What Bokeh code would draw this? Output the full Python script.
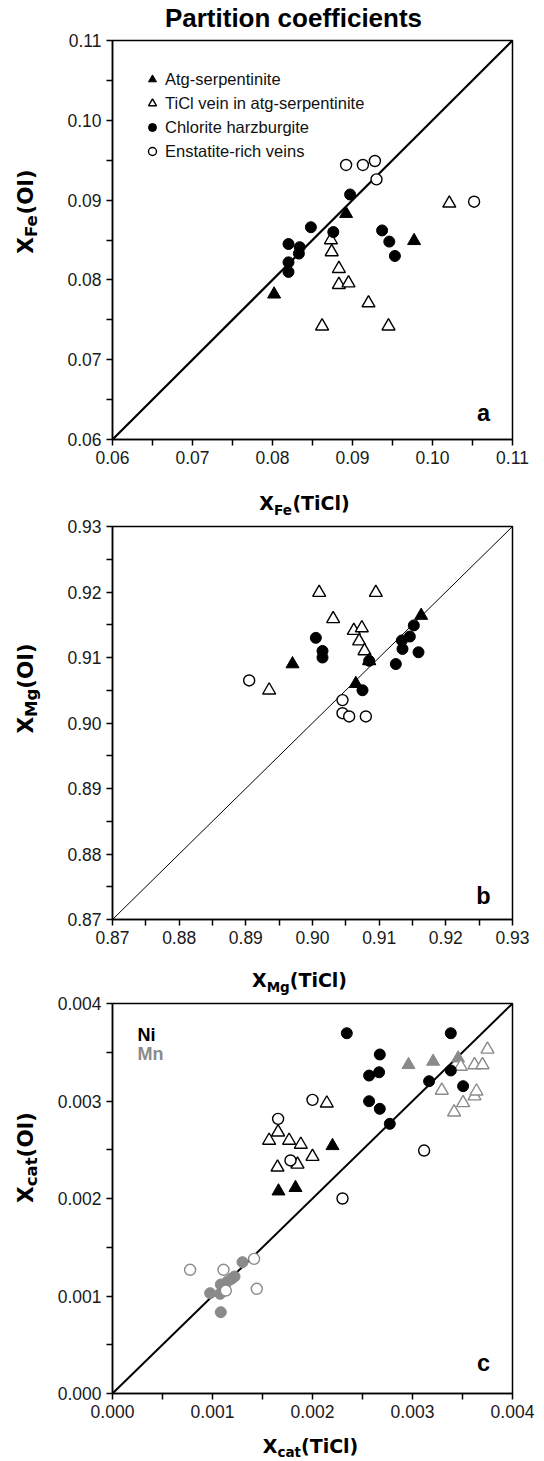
from bokeh.plotting import figure
from bokeh.models import Range1d, FixedTicker, Label, Legend, LegendItem, PrintfTickFormatter
from bokeh.layouts import column, row
from bokeh.embed import file_html
from bokeh.resources import INLINE

# ---------------- data ----------------
# Panel a : X_Fe
a_atg_x = [0.0892, 0.0977, 0.0802]
a_atg_y = [0.0883, 0.0849, 0.0782]
a_vein_x = [0.1021, 0.0873, 0.0874, 0.0883, 0.0883, 0.0895, 0.0920, 0.0862, 0.0945]
a_vein_y = [0.0896, 0.0850, 0.0835, 0.0814, 0.0794, 0.0796, 0.0771, 0.0742, 0.0742]
a_chl_x = [0.0897, 0.0848, 0.0876, 0.0820, 0.0834, 0.0833, 0.0820, 0.0820, 0.0937, 0.0946, 0.0953]
a_chl_y = [0.0907, 0.0866, 0.0860, 0.0845, 0.0841, 0.0833, 0.0822, 0.0810, 0.0862, 0.0848, 0.0830]
a_ens_x = [0.0892, 0.0913, 0.0928, 0.0930, 0.1052]
a_ens_y = [0.0944, 0.0944, 0.0949, 0.0926, 0.0898]

# Panel b : X_Mg
b_atg_x = [0.8970, 0.9065, 0.9163]
b_atg_y = [0.9090, 0.9060, 0.9164]
b_vein_x = [0.9010, 0.9095, 0.9031, 0.9062, 0.9074, 0.9070, 0.9078, 0.9085, 0.8935]
b_vein_y = [0.9199, 0.9199, 0.9159, 0.9141, 0.9145, 0.9125, 0.9110, 0.9095, 0.9050]
b_chl_x = [0.9005, 0.9015, 0.9015, 0.9075, 0.9085, 0.9125, 0.9134, 0.9135, 0.9146, 0.9152, 0.9159]
b_chl_y = [0.9130, 0.9110, 0.9100, 0.9050, 0.9095, 0.9090, 0.9126, 0.9113, 0.9132, 0.9149, 0.9108]
b_ens_x = [0.8905, 0.9045, 0.9045, 0.9055, 0.9080]
b_ens_y = [0.9065, 0.9035, 0.9015, 0.9010, 0.9010]

# Panel c : X_cat, Ni (black) and Mn (grey)
c_ni_atg_x = [0.00220, 0.00166, 0.00183]
c_ni_atg_y = [0.00254, 0.002075, 0.00211]
c_ni_vein_x = [0.002143, 0.001656, 0.001566, 0.001766, 0.001883, 0.00165, 0.00185, 0.00200]
c_ni_vein_y = [0.002977, 0.00268, 0.002595, 0.002595, 0.002554, 0.00232, 0.00235, 0.00243]
c_ni_chl_x = [0.002343, 0.003383, 0.002673, 0.002566, 0.002666, 0.002566, 0.002673, 0.002773, 0.003166, 0.003383, 0.003506]
c_ni_chl_y = [0.003695, 0.003695, 0.003477, 0.003261, 0.003295, 0.002998, 0.00292, 0.002766, 0.003203, 0.003313, 0.003152]
c_ni_ens_x = [0.00200, 0.001656, 0.00178, 0.00230, 0.003116]
c_ni_ens_y = [0.003012, 0.002817, 0.00239, 0.00200, 0.002492]
c_mn_atg_x = [0.00296, 0.003206, 0.003456]
c_mn_atg_y = [0.003371, 0.003405, 0.003439]
c_mn_vein_x = [0.003483, 0.003293, 0.003506, 0.003416, 0.00362, 0.00370, 0.00375, 0.00362, 0.00364]
c_mn_vein_y = [0.003354, 0.003108, 0.002981, 0.002885, 0.00337, 0.00337, 0.00353, 0.00305, 0.00310]
c_mn_chl_x = [0.00130, 0.000976, 0.001083, 0.00119, 0.001083, 0.001076, 0.00115, 0.00122]
c_mn_chl_y = [0.001347, 0.001029, 0.001118, 0.001176, 0.000834, 0.001022, 0.00115, 0.00120]
c_mn_ens_x = [0.000776, 0.00111, 0.001416, 0.001443, 0.001133]
c_mn_ens_y = [0.001269, 0.001269, 0.001381, 0.001074, 0.001056]

a_ticks = [0.06, 0.07, 0.08, 0.09, 0.10, 0.11]
a_minor = [0.065, 0.075, 0.085, 0.095, 0.105]
b_ticks = [0.87, 0.88, 0.89, 0.90, 0.91, 0.92, 0.93]
b_minor = [0.875, 0.885, 0.895, 0.905, 0.915, 0.925]
c_ticks = [0.000, 0.001, 0.002, 0.003, 0.004]
c_minor = [0.0005, 0.0015, 0.0025, 0.0035]

FONT = "Liberation Sans"
LFONT = "DejaVu Sans"
GREY = "#8a8a8a"
MID = 0.33   # distance (em) from alphabetic baseline to the 'middle' anchor

# approximate advance widths (em) of DejaVu Sans Bold
W = {'X': .774, 'F': .683, 'e': .678, 'M': .995, 'g': .716, 'c': .594, 'a': .675,
     't': .478, '(': .457, 'T': .682, 'i': .343, 'C': .734, 'l': .343, ')': .457, 'O': .850}


def tw(s, size):
    return sum(W[ch] for ch in s) * size


def make_fig(lo, hi, ticks, minor, fmt, height, top, bottom):
    p = figure(width=492, height=height, output_backend="svg", toolbar_location=None,
               x_range=Range1d(lo, hi), y_range=Range1d(lo, hi),
               min_border_left=60, min_border_right=32, min_border_top=top,
               min_border_bottom=bottom, tools="")
    p.xgrid.visible = False
    p.ygrid.visible = False
    p.outline_line_color = "black"
    p.outline_line_width = 1.5
    p.outline_line_alpha = 1
    p.background_fill_color = "white"
    p.border_fill_color = "white"
    for ax in (p.xaxis[0], p.yaxis[0]):
        ax.ticker = FixedTicker(ticks=ticks, minor_ticks=minor)
        ax.formatter = PrintfTickFormatter(format=fmt)
        ax.axis_line_color = "black"
        ax.axis_line_width = 1.5
        ax.major_tick_line_color = "black"
        ax.major_tick_line_width = 1.5
        ax.minor_tick_line_color = "black"
        ax.minor_tick_line_width = 1.5
        ax.major_tick_in = 0
        ax.major_tick_out = 6
        ax.minor_tick_in = 0
        ax.minor_tick_out = 6
        ax.major_label_text_font = FONT
        ax.major_label_text_font_size = "17.5px"
        ax.major_label_text_color = "#1a1a1a"
        ax.major_label_standoff = 5
    return p


def text_fig(w, h):
    f = figure(width=w, height=h, output_backend="svg", toolbar_location=None, tools="",
               x_axis_type=None, y_axis_type=None, min_border=0,
               x_range=Range1d(0, w), y_range=Range1d(0, h))
    f.outline_line_color = None
    f.grid.visible = False
    f.background_fill_color = "white"
    f.border_fill_color = "white"
    return f


def xlabel(f, sub, tail, cx, base, s1=19, s2=13.5, drop=5):
    # base: alphabetic baseline, pixels above the bottom of the text figure
    parts = [("X", s1, 0), (sub, s2, -drop), (tail, s1, 0)]
    total = sum(tw(t, s) for t, s, _ in parts)
    x = cx - total / 2
    for t, s, dy in parts:
        f.add_layout(Label(x=x, y=base + dy + MID * s, x_units="screen", y_units="screen",
                           text=t, text_font=LFONT, text_font_style="bold",
                           text_font_size=f"{s}px", text_align="left",
                           text_baseline="middle", text_color="black"))
        x += tw(t, s)


def ylabel(f, sub, tail, cy, base, s1=21.5, s2=16.5):
    # base: baseline position (pixels from left); text reads bottom to top
    parts = [("X", s1, 0), (sub, s2, 5), (tail, s1, 0)]
    total = sum(tw(t, s) for t, s, _ in parts)
    y = cy - total / 2
    for t, s, dx in parts:
        f.add_layout(Label(x=base + dx - MID * s, y=y, x_units="screen", y_units="screen",
                           text=t, angle=90, angle_units="deg",
                           text_font=LFONT, text_font_style="bold", text_font_size=f"{s}px",
                           text_align="left", text_baseline="middle", text_color="black"))
        y += tw(t, s)


def letter(p, t, x, y, size=23.5, color="black", align="center"):
    p.add_layout(Label(x=x, y=y, x_units="screen", y_units="screen", text=t,
                       text_font=FONT, text_font_style="bold", text_font_size=f"{size}px",
                       text_align=align, text_baseline="middle", text_color=color))


def groups(p, atg, vein, chl, ens, color="black", size_t=13, size_c=11):
    r1 = p.scatter(atg[0], atg[1], marker="triangle", size=size_t, fill_color=color,
                   line_color=color, line_width=1)
    r2 = p.scatter(vein[0], vein[1], marker="triangle", size=size_t, fill_color="white",
                   line_color=color, line_width=1.4)
    r3 = p.scatter(chl[0], chl[1], marker="circle", size=size_c, fill_color=color,
                   line_color=color, line_width=1)
    r4 = p.scatter(ens[0], ens[1], marker="circle", size=size_c, fill_color="white",
                   line_color=color, line_width=1.4)
    return r1, r2, r3, r4


# ---------------- title ----------------
ft = text_fig(544, 31)
ft.add_layout(Label(x=293, y=14, x_units="screen", y_units="screen",
                    text="Partition coefficients", text_font=FONT, text_font_style="bold",
                    text_font_size="26px", text_align="center", text_baseline="middle",
                    text_color="black"))

# ---------------- panel a ----------------
pa = make_fig(a_ticks[0], a_ticks[-1], a_ticks, a_minor, "%.2f", 440, 9, 32)
pa.line([a_ticks[0], a_ticks[-1]], [a_ticks[0], a_ticks[-1]], line_color="black", line_width=2.2)
ra = groups(pa, (a_atg_x, a_atg_y), (a_vein_x, a_vein_y), (a_chl_x, a_chl_y), (a_ens_x, a_ens_y))
legend = Legend(items=[
    LegendItem(label="Atg-serpentinite", renderers=[ra[0]]),
    LegendItem(label="TiCl vein in atg-serpentinite", renderers=[ra[1]]),
    LegendItem(label="Chlorite harzburgite", renderers=[ra[2]]),
    LegendItem(label="Enstatite-rich veins", renderers=[ra[3]]),
], location="top_left", margin=29, padding=0, spacing=4, glyph_width=22, glyph_height=20,
    label_height=20, label_standoff=2, label_text_font=FONT, label_text_font_size="16.5px",
    label_text_color="#111111", border_line_color=None, background_fill_alpha=0)
pa.add_layout(legend)
letter(pa, "a", 371, 27)
yla = text_fig(52, 440)
ylabel(yla, "Fe", "(Ol)", 228, 31.7)
xla = text_fig(544, 47)
xlabel(xla, "Fe", "(TiCl)", 304, 9)

# ---------------- panel b ----------------
pb = make_fig(b_ticks[0], b_ticks[-1], b_ticks, b_minor, "%.2f", 433, 8, 32)
pb.line([b_ticks[0], b_ticks[-1]], [b_ticks[0], b_ticks[-1]], line_color="black", line_width=1)
groups(pb, (b_atg_x, b_atg_y), (b_vein_x, b_vein_y), (b_chl_x, b_chl_y), (b_ens_x, b_ens_y))
letter(pb, "b", 371, 24)
ylb = text_fig(52, 433)
ylabel(ylb, "Mg", "(Ol)", 231, 31.7)
xlb = text_fig(544, 44)
xlabel(xlb, "Mg", "(TiCl)", 299, 9)

# ---------------- panel c ----------------
pc = make_fig(c_ticks[0], c_ticks[-1], c_ticks, c_minor, "%.3f", 430, 8, 32)
pc.line([c_ticks[0], c_ticks[-1]], [c_ticks[0], c_ticks[-1]], line_color="black", line_width=2)
groups(pc, (c_mn_atg_x, c_mn_atg_y), (c_mn_vein_x, c_mn_vein_y), (c_mn_chl_x, c_mn_chl_y),
       (c_mn_ens_x, c_mn_ens_y), color=GREY)
groups(pc, (c_ni_atg_x, c_ni_atg_y), (c_ni_vein_x, c_ni_vein_y), (c_ni_chl_x, c_ni_chl_y),
       (c_ni_ens_x, c_ni_ens_y), color="black")
letter(pc, "c", 371, 31)
letter(pc, "Ni", 25, 359, size=18, align="left")
letter(pc, "Mn", 25, 340, size=18, color=GREY, align="left")
ylc = text_fig(52, 430)
ylabel(ylc, "cat", "(Ol)", 236, 31.7)
xlc = text_fig(544, 36)
xlabel(xlc, "cat", "(TiCl)", 310, 9, drop=4)

layout = column(ft, row(yla, pa, spacing=0), xla,
                row(ylb, pb, spacing=0), xlb,
                row(ylc, pc, spacing=0), xlc, spacing=0)
open("out.html", "w").write(file_html(layout, INLINE))
